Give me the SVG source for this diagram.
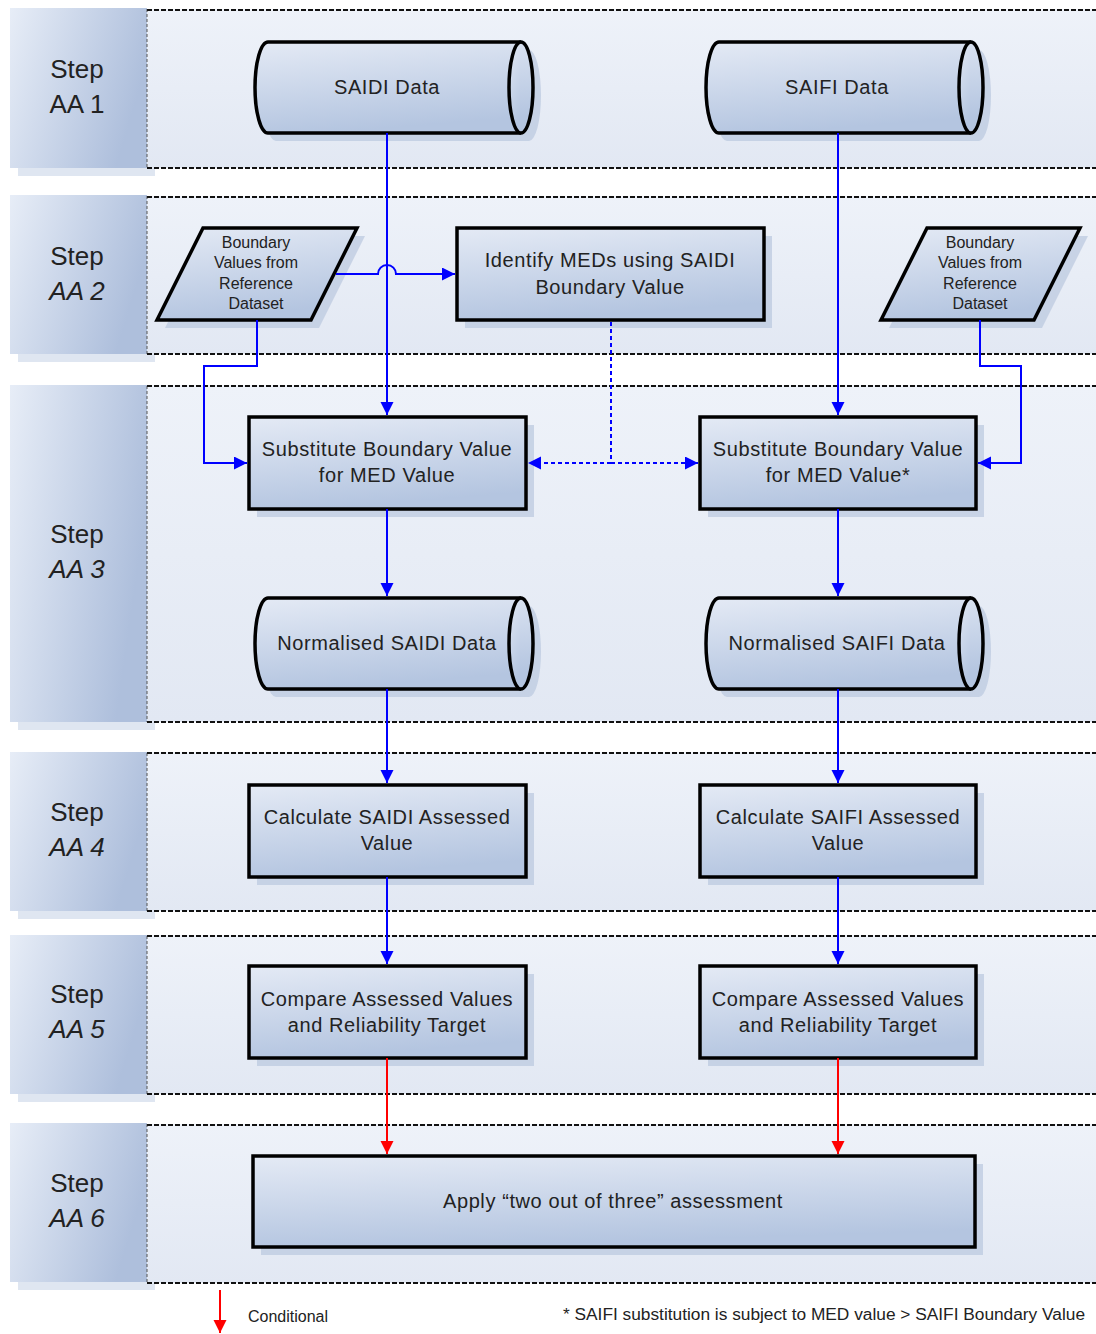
<svg xmlns="http://www.w3.org/2000/svg" width="1096" height="1334" viewBox="0 0 1096 1334">
<style>
.lane{fill:url(#laneG)}
.lbl{fill:url(#lblG)}
.lshadow{fill:#dfe6f1}
.dash{stroke:#111;stroke-width:2;stroke-dasharray:5 2;fill:none}
.vdash{stroke:#555;stroke-width:1;stroke-dasharray:3 2;fill:none}
.steptxt{font-family:"Liberation Sans",Arial,sans-serif;font-size:26px;fill:#222;text-anchor:middle}
.it{font-style:italic}
.shape{fill:url(#nodeG);stroke:#000;stroke-width:3.5;stroke-linejoin:miter}
.shadow{fill:#b9c7de;opacity:0.7}
.t{font-family:"Liberation Sans",Arial,sans-serif;font-size:20px;letter-spacing:0.6px;fill:#222;text-anchor:middle}
.ts{font-family:"Liberation Sans",Arial,sans-serif;font-size:16px;fill:#222;text-anchor:middle}
.blue{stroke:#0000ff;stroke-width:2;fill:none}
.dot{stroke-dasharray:4 3}
.red{stroke:#ff0000;stroke-width:2;fill:none}
.note{font-family:"Liberation Sans",Arial,sans-serif;font-size:16px;fill:#222}
</style>
<defs>
<linearGradient id="nodeG" x1="0" y1="0" x2="0.25" y2="1">
<stop offset="0" stop-color="#e4eaf5"/>
<stop offset="1" stop-color="#b4c5e0"/>
</linearGradient>
<linearGradient id="laneG" x1="0" y1="0" x2="0" y2="1">
<stop offset="0" stop-color="#eef2f9"/>
<stop offset="1" stop-color="#e2e8f3"/>
</linearGradient>
<linearGradient id="lblG" x1="0" y1="0" x2="1" y2="0.35">
<stop offset="0" stop-color="#e7edf7"/>
<stop offset="1" stop-color="#aebfdc"/>
</linearGradient>
<marker id="ab" markerWidth="14" markerHeight="14" refX="13" refY="6.5" orient="auto" markerUnits="userSpaceOnUse"><path d="M0,0 L13,6.5 L0,13 Z" fill="#0000ff"/></marker>
<marker id="ar" markerWidth="14" markerHeight="14" refX="13" refY="6.5" orient="auto" markerUnits="userSpaceOnUse"><path d="M0,0 L13,6.5 L0,13 Z" fill="#ff0000"/></marker>
</defs>
<rect width="1096" height="1334" fill="#ffffff"/>

<g id="lanes">
<g id="lane1">
<rect class="lshadow" x="18" y="16" width="137" height="160"/>
<rect class="lane" x="147" y="9" width="949" height="159"/>
<rect class="lbl" x="10" y="8" width="137" height="160"/>
<line class="vdash" x1="147" y1="9" x2="147" y2="168"/>
<line class="dash" x1="147" y1="10" x2="1096" y2="10"/>
<line class="dash" x1="147" y1="168" x2="1096" y2="168"/>
<text class="steptxt" x="77" y="78">Step</text>
<text class="steptxt" x="77" y="113">AA 1</text>
</g>
<g id="lane2">
<rect class="lshadow" x="18" y="203" width="137" height="159"/>
<rect class="lane" x="147" y="196" width="949" height="158"/>
<rect class="lbl" x="10" y="195" width="137" height="159"/>
<line class="vdash" x1="147" y1="196" x2="147" y2="354"/>
<line class="dash" x1="147" y1="197" x2="1096" y2="197"/>
<line class="dash" x1="147" y1="354" x2="1096" y2="354"/>
<text class="steptxt" x="77" y="265">Step</text>
<text class="steptxt it" x="77" y="300">AA 2</text>
</g>
<g id="lane3">
<rect class="lshadow" x="18" y="393" width="137" height="337"/>
<rect class="lane" x="147" y="385" width="949" height="337"/>
<rect class="lbl" x="10" y="385" width="137" height="337"/>
<line class="vdash" x1="147" y1="386" x2="147" y2="722"/>
<line class="dash" x1="147" y1="386" x2="1096" y2="386"/>
<line class="dash" x1="147" y1="722" x2="1096" y2="722"/>
<text class="steptxt" x="77" y="543">Step</text>
<text class="steptxt it" x="77" y="578">AA 3</text>
</g>
<g id="lane4">
<rect class="lshadow" x="18" y="760" width="137" height="159"/>
<rect class="lane" x="147" y="752" width="949" height="159"/>
<rect class="lbl" x="10" y="752" width="137" height="159"/>
<line class="vdash" x1="147" y1="753" x2="147" y2="911"/>
<line class="dash" x1="147" y1="753" x2="1096" y2="753"/>
<line class="dash" x1="147" y1="911" x2="1096" y2="911"/>
<text class="steptxt" x="77" y="821">Step</text>
<text class="steptxt it" x="77" y="856">AA 4</text>
</g>
<g id="lane5">
<rect class="lshadow" x="18" y="943" width="137" height="159"/>
<rect class="lane" x="147" y="935" width="949" height="159"/>
<rect class="lbl" x="10" y="935" width="137" height="159"/>
<line class="vdash" x1="147" y1="936" x2="147" y2="1094"/>
<line class="dash" x1="147" y1="936" x2="1096" y2="936"/>
<line class="dash" x1="147" y1="1094" x2="1096" y2="1094"/>
<text class="steptxt" x="77" y="1003">Step</text>
<text class="steptxt it" x="77" y="1038">AA 5</text>
</g>
<g id="lane6">
<rect class="lshadow" x="18" y="1131" width="137" height="159"/>
<rect class="lane" x="147" y="1124" width="949" height="159"/>
<rect class="lbl" x="10" y="1123" width="137" height="159"/>
<line class="vdash" x1="147" y1="1124" x2="147" y2="1283"/>
<line class="dash" x1="147" y1="1125" x2="1096" y2="1125"/>
<line class="dash" x1="147" y1="1283" x2="1096" y2="1283"/>
<text class="steptxt" x="77" y="1192">Step</text>
<text class="steptxt it" x="77" y="1227">AA 6</text>
</g>
</g>

<g id="n-saidi-data">
<path class="shadow" transform="translate(8,8)" d="M268,42 H521 A12,45.5 0 0 1 521,133 H268 A13,45.5 0 0 1 268,42 Z"/>
<path class="shape" d="M268,42 H521 A12,45.5 0 0 1 521,133 H268 A13,45.5 0 0 1 268,42 Z"/>
<path class="shape" d="M521,42 A12,45.5 0 0 0 521,133"/>
<text class="t" x="387" y="94">SAIDI Data</text>
</g>
<g id="n-saifi-data">
<path class="shadow" transform="translate(8,8)" d="M719,42 H971 A12,45.5 0 0 1 971,133 H719 A13,45.5 0 0 1 719,42 Z"/>
<path class="shape" d="M719,42 H971 A12,45.5 0 0 1 971,133 H719 A13,45.5 0 0 1 719,42 Z"/>
<path class="shape" d="M971,42 A12,45.5 0 0 0 971,133"/>
<text class="t" x="837" y="94">SAIFI Data</text>
</g>

<g id="n-boundary-left">
<polygon class="shadow" transform="translate(8,8)" points="203,228 357,228 311,320 157,320"/>
<polygon class="shape" points="203,228 357,228 311,320 157,320"/>
<text class="ts" x="256" y="248">Boundary</text>
<text class="ts" x="256" y="268">Values from</text>
<text class="ts" x="256" y="289">Reference</text>
<text class="ts" x="256" y="309">Dataset</text>
</g>
<g id="n-identify">
<rect class="shadow" x="465" y="236" width="307" height="92"/>
<rect class="shape" x="457" y="228" width="307" height="92"/>
<text class="t" x="610" y="267">Identify MEDs using SAIDI</text>
<text class="t" x="610" y="294">Boundary Value</text>
</g>
<g id="n-boundary-right">
<polygon class="shadow" transform="translate(8,8)" points="927,228 1080,228 1034,320 881,320"/>
<polygon class="shape" points="927,228 1080,228 1034,320 881,320"/>
<text class="ts" x="980" y="248">Boundary</text>
<text class="ts" x="980" y="268">Values from</text>
<text class="ts" x="980" y="289">Reference</text>
<text class="ts" x="980" y="309">Dataset</text>
</g>

<g id="n-subst-saidi">
<rect class="shadow" x="257" y="425" width="277" height="92"/>
<rect class="shape" x="249" y="417" width="277" height="92"/>
<text class="t" x="387" y="456">Substitute Boundary Value</text>
<text class="t" x="387" y="482">for MED Value</text>
</g>
<g id="n-subst-saifi">
<rect class="shadow" x="708" y="425" width="276" height="92"/>
<rect class="shape" x="700" y="417" width="276" height="92"/>
<text class="t" x="838" y="456">Substitute Boundary Value</text>
<text class="t" x="838" y="482">for MED Value*</text>
</g>

<g id="n-norm-saidi">
<path class="shadow" transform="translate(8,8)" d="M268,598 H521 A12,45.5 0 0 1 521,689 H268 A13,45.5 0 0 1 268,598 Z"/>
<path class="shape" d="M268,598 H521 A12,45.5 0 0 1 521,689 H268 A13,45.5 0 0 1 268,598 Z"/>
<path class="shape" d="M521,598 A12,45.5 0 0 0 521,689"/>
<text class="t" x="387" y="650">Normalised SAIDI Data</text>
</g>
<g id="n-norm-saifi">
<path class="shadow" transform="translate(8,8)" d="M719,598 H971 A12,45.5 0 0 1 971,689 H719 A13,45.5 0 0 1 719,598 Z"/>
<path class="shape" d="M719,598 H971 A12,45.5 0 0 1 971,689 H719 A13,45.5 0 0 1 719,598 Z"/>
<path class="shape" d="M971,598 A12,45.5 0 0 0 971,689"/>
<text class="t" x="837" y="650">Normalised SAIFI Data</text>
</g>

<g id="n-calc-saidi">
<rect class="shadow" x="257" y="793" width="277" height="92"/>
<rect class="shape" x="249" y="785" width="277" height="92"/>
<text class="t" x="387" y="824">Calculate SAIDI Assessed</text>
<text class="t" x="387" y="850">Value</text>
</g>
<g id="n-calc-saifi">
<rect class="shadow" x="708" y="793" width="276" height="92"/>
<rect class="shape" x="700" y="785" width="276" height="92"/>
<text class="t" x="838" y="824">Calculate SAIFI Assessed</text>
<text class="t" x="838" y="850">Value</text>
</g>

<g id="n-compare-saidi">
<rect class="shadow" x="257" y="974" width="277" height="92"/>
<rect class="shape" x="249" y="966" width="277" height="92"/>
<text class="t" x="387" y="1006">Compare Assessed Values</text>
<text class="t" x="387" y="1032">and Reliability Target</text>
</g>
<g id="n-compare-saifi">
<rect class="shadow" x="708" y="974" width="276" height="92"/>
<rect class="shape" x="700" y="966" width="276" height="92"/>
<text class="t" x="838" y="1006">Compare Assessed Values</text>
<text class="t" x="838" y="1032">and Reliability Target</text>
</g>

<g id="n-apply">
<rect class="shadow" x="261" y="1164" width="722" height="91"/>
<rect class="shape" x="253" y="1156" width="722" height="91"/>
<text class="t" x="613" y="1208">Apply “two out of three” assessment</text>
</g>

<g id="connectors">
<path class="blue" d="M387,133 V415" marker-end="url(#ab)"/>
<path class="blue" d="M336,274 H378 A9,9 0 0 1 396,274 H455" marker-end="url(#ab)"/>
<path class="blue" d="M257,320 V366 H204 V463 H247" marker-end="url(#ab)"/>
<path class="blue dot" d="M611,322 V463"/>
<path class="blue dot" d="M611,463 H528" marker-end="url(#ab)"/>
<path class="blue dot" d="M611,463 H698" marker-end="url(#ab)"/>
<path class="blue" d="M838,133 V415" marker-end="url(#ab)"/>
<path class="blue" d="M980,320 V366 H1021 V463 H978" marker-end="url(#ab)"/>
<path class="blue" d="M387,509 V596" marker-end="url(#ab)"/>
<path class="blue" d="M838,509 V596" marker-end="url(#ab)"/>
<path class="blue" d="M387,689 V783" marker-end="url(#ab)"/>
<path class="blue" d="M838,689 V783" marker-end="url(#ab)"/>
<path class="blue" d="M387,877 V964" marker-end="url(#ab)"/>
<path class="blue" d="M838,877 V964" marker-end="url(#ab)"/>
<path class="red" d="M387,1058 V1154" marker-end="url(#ar)"/>
<path class="red" d="M838,1058 V1154" marker-end="url(#ar)"/>
</g>

<g id="legend">
<path class="red" d="M220,1290 V1333" marker-end="url(#ar)"/>
<text class="note" x="248" y="1322">Conditional</text>
<text class="note" x="563" y="1320" textLength="522" lengthAdjust="spacingAndGlyphs">* SAIFI substitution is subject to MED value &gt; SAIFI Boundary Value</text>
</g>
</svg>
